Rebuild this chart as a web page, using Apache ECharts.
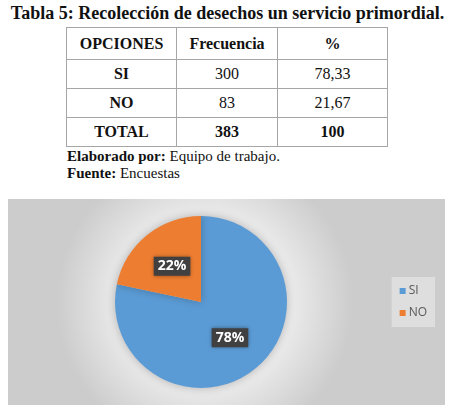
<!DOCTYPE html>
<html><head><meta charset="utf-8">
<script src="https://cdn.jsdelivr.net/npm/echarts@6/dist/echarts.min.js"></script>
<style>
html,body{margin:0;padding:0;width:455px;height:411px;background:#fff;overflow:hidden;}
#title{position:absolute;left:0;top:3px;width:455px;text-align:center;font:bold 18px "Liberation Serif","Times New Roman",serif;color:#111;white-space:nowrap;}
#tbl{position:absolute;left:66px;top:27px;border-collapse:collapse;font-family:"Liberation Serif","Times New Roman",serif;font-size:16px;color:#111;}
#tbl td{border:1px solid #a6a6a6;text-align:center;padding:0;}
#notes{position:absolute;left:67px;top:148px;font:15px "Liberation Serif","Times New Roman",serif;line-height:17px;color:#111;}
#chart{position:absolute;left:8px;top:199px;width:437px;height:206px;}
</style></head><body>
<div id="title">Tabla 5: Recolección de desechos un servicio primordial.</div>
<table id="tbl"></table>
<div id="notes"><b>Elaborado por:</b> Equipo de trabajo.<br><b>Fuente:</b> Encuestas</div>
<div id="chart"></div>
<script>
var headers = ["OPCIONES", "Frecuencia", "%"];
var categories = ["SI", "NO"];
var frequencies = [300, 83];
var percents = ["78,33", "21,67"];
var totalRow = ["TOTAL", "383", "100"];
var colors = ["#5B9BD5", "#ED7D31"];

// build table
var tbl = document.getElementById('tbl');
var widths = [109, 100, 109];
function addRow(cells, h, boldAll, boldFirst){
  var tr = document.createElement('tr');
  cells.forEach(function(c, i){
    var td = document.createElement('td');
    td.textContent = c;
    td.style.width = widths[i] + 'px';
    td.style.height = h + 'px';
    if (boldAll || (boldFirst && i === 0)) td.style.fontWeight = 'bold';
    tr.appendChild(td);
  });
  tbl.appendChild(tr);
}
addRow(headers, 31, true, false);
for (var i = 0; i < categories.length; i++) addRow([categories[i], String(frequencies[i]), percents[i]], 28, false, true);
addRow(totalRow, 28, true, false);

var chart = echarts.init(document.getElementById('chart'));
chart.setOption({
  backgroundColor: {
    type: 'radial', x: 0.45, y: 0.5, r: 0.72,
    colorStops: [{offset: 0, color: '#ffffff'}, {offset: 0.4, color: '#f8f8f8'}, {offset: 1, color: '#cccccc'}]
  },
  animation: false,
  color: colors,
  legend: {
    orient: 'vertical', right: 10, top: 78,
    data: categories,
    icon: 'rect', itemWidth: 6, itemHeight: 6, itemGap: 10,
    backgroundColor: 'rgba(255,255,255,0.35)', padding: [8, 8, 8, 8],
    textStyle: {color: '#595959', fontSize: 12, fontFamily: 'Open Sans, sans-serif', padding: [0, 0, 0, -2]}
  },
  series: [{
    type: 'pie',
    center: [193, 103],
    radius: 86,
    startAngle: 90,
    clockwise: true,
    data: categories.map(function(c, i){ return {name: c, value: frequencies[i]}; }),
    itemStyle: {
      shadowColor: 'rgba(0,0,0,0.25)', shadowBlur: 8
    },
    label: {
      position: 'inside',
      formatter: function(p){ return Math.round(p.percent) + '%'; },
      color: '#fff', fontWeight: 'bold', fontSize: 14,
      fontFamily: 'Open Sans, sans-serif',
      backgroundColor: '#404040', padding: [3, 4, 2, 4],
      shadowColor: 'rgba(0,0,0,0.4)', shadowBlur: 4
    },
    labelLine: {show: false}
  }]
});
</script>
</body></html>
